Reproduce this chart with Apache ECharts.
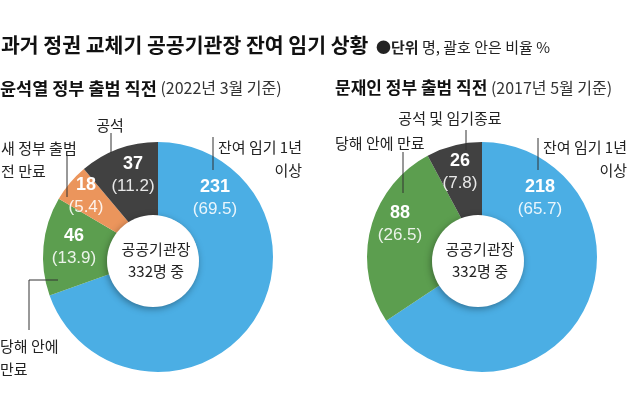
<!DOCTYPE html>
<html>
<head>
<meta charset="utf-8">
<script src="https://cdn.jsdelivr.net/npm/echarts@6/dist/echarts.min.js"></script>
<style>
html,body{margin:0;padding:0;background:#fff;}
#chart{width:640px;height:395px;}
</style>
</head>
<body>
<div id="chart"></div>
<script>
// ---- data ----
var titleText = '과거 정권 교체기 공공기관장 잔여 임기 상황';
var unitBold = '●단위';
var unitText = ' 명, 괄호 안은 비율 %';
var leftTitle = '윤석열 정부 출범 직전';
var leftSub = '(2022년 3월 기준)';
var rightTitle = '문재인 정부 출범 직전';
var rightSub = '(2017년 5월 기준)';
var centerLine1 = '공공기관장';
var centerLine2 = '332명 중';

var leftCategories = ['잔여 임기 1년\n이상', '당해 안에\n만료', '새 정부 출범\n전 만료', '공석'];
var leftValues = [231, 46, 18, 37];
var leftPercents = ['69.5', '13.9', '5.4', '11.2'];

var rightCategories = ['잔여 임기 1년\n이상', '당해 안에 만료', '공석 및 임기종료'];
var rightValues = [218, 88, 26];
var rightPercents = ['65.7', '26.5', '7.8'];

// ---- styles ----
var FONT = "'Liberation Sans','Noto Sans CJK KR',sans-serif";
var KFONT = "'Noto Sans CJK KR',sans-serif";
var leftColors = ['#4BAEE4', '#5C9E4F', '#EB955C', '#414141'];
var rightColors = ['#4BAEE4', '#5C9E4F', '#414141'];

// label centre positions (layout, px)
var leftValuePos = [[215, 198], [74, 247], [86, 196], [133, 175]];
var rightValuePos = [[540, 198], [400, 224], [460, 172]];

function buildData(cats, vals, cols) {
  return vals.map(function (v, i) {
    return { name: cats[i], value: v, itemStyle: { color: cols[i] } };
  });
}

function pieSeries(center, cats, vals, cols, pcts, pos) {
  return {
    type: 'pie',
    center: center,
    radius: [40, 115],
    startAngle: 90,
    clockwise: true,
    silent: true,
    animation: false,
    itemStyle: { borderWidth: 0 },
    data: buildData(cats, vals, cols),
    label: {
      show: true,
      position: 'inside',
      formatter: function (p) {
        return '{v|' + p.value + '}\n{p|(' + pcts[p.dataIndex] + ')}';
      },
      rich: {
        v: { color: '#fff', fontSize: 18, fontWeight: 'bold', fontFamily: FONT, lineHeight: 22, align: 'center' },
        p: { color: 'rgba(255,255,255,0.88)', fontSize: 17, fontFamily: FONT, lineHeight: 22, align: 'center' }
      }
    },
    labelLine: { show: false },
    labelLayout: function (params) {
      var q = pos[params.dataIndex];
      return { x: q[0], y: q[1], align: 'center', verticalAlign: 'middle' };
    }
  };
}

function txt(x, y, text, size, weight, align, color, font) {
  return {
    type: 'text', z: 100, x: x, y: y,
    style: {
      text: text, fontSize: size, fontWeight: weight || 'normal',
      fontFamily: font || KFONT, fill: color || '#222',
      align: align || 'left', verticalAlign: 'middle', lineHeight: 23
    }
  };
}
function line(points) {
  return {
    type: 'polyline', z: 100,
    shape: { points: points },
    style: { stroke: '#333', lineWidth: 1, fill: null }
  };
}
function hole(cx, cy) {
  return {
    type: 'circle', z: 90,
    shape: { cx: cx, cy: cy, r: 46 },
    style: {
      fill: '#fff', shadowBlur: 7, shadowColor: 'rgba(0,0,0,0.35)',
      shadowOffsetX: -1, shadowOffsetY: 2
    }
  };
}

var chart = echarts.init(document.getElementById('chart'), null, { renderer: 'canvas' });
chart.setOption({
  backgroundColor: '#fff',
  animation: false,
  series: [
    pieSeries([158, 257], leftCategories, leftValues, leftColors, leftPercents, leftValuePos),
    pieSeries([482, 257], rightCategories, rightValues, rightColors, rightPercents, rightValuePos)
  ],
  graphic: [
    // headings
    txt(1, 45, titleText, 20.5, 'bold', 'left', '#111'),
    {
      type: 'text', z: 100, x: 376, y: 47,
      style: {
        text: '{b|' + unitBold + '}{n|' + unitText + '}',
        verticalAlign: 'middle',
        rich: {
          b: { fontSize: 15, fontWeight: 'bold', fontFamily: KFONT, fill: '#222' },
          n: { fontSize: 15, fontFamily: KFONT, fill: '#222' }
        }
      }
    },
    {
      type: 'text', z: 100, x: 0, y: 88,
      style: {
        text: '{b|' + leftTitle + '}{n| ' + leftSub + '}',
        verticalAlign: 'middle',
        rich: {
          b: { fontSize: 17.5, fontWeight: 'bold', fontFamily: KFONT, fill: '#111' },
          n: { fontSize: 16, fontFamily: KFONT, fill: '#333' }
        }
      }
    },
    {
      type: 'text', z: 100, x: 335, y: 88,
      style: {
        text: '{b|' + rightTitle + '}{n| ' + rightSub + '}',
        verticalAlign: 'middle',
        rich: {
          b: { fontSize: 17, fontWeight: 'bold', fontFamily: KFONT, fill: '#111' },
          n: { fontSize: 16, fontFamily: KFONT, fill: '#333' }
        }
      }
    },
    // inner holes
    hole(153, 261),
    hole(478, 261),
    txt(156, 249, centerLine1, 15, 'normal', 'center', '#222'),
    txt(156, 271, centerLine2, 15, 'normal', 'center', '#222'),
    txt(480, 249, centerLine1, 15, 'normal', 'center', '#222'),
    txt(480, 271, centerLine2, 15, 'normal', 'center', '#222'),
    // left category labels
    txt(302, 159, leftCategories[0], 15, 'normal', 'right'),
    txt(0, 358, leftCategories[1], 15, 'normal', 'left'),
    txt(1, 160, leftCategories[2], 15, 'normal', 'left'),
    txt(110, 125, leftCategories[3], 15, 'normal', 'center'),
    line([[213, 137], [213, 170]]),
    line([[58, 280], [29, 280], [29, 330]]),
    line([[67, 155], [67, 197]]),
    line([[111, 133], [111, 153]]),
    // right category labels
    txt(627, 159, rightCategories[0], 15, 'normal', 'right'),
    txt(335, 143, rightCategories[1], 15, 'normal', 'left'),
    txt(450, 118, rightCategories[2], 15, 'normal', 'center'),
    line([[538, 138], [538, 170]]),
    line([[403, 152], [403, 193]]),
    line([[466, 130], [466, 150]])
  ]
});
</script>
</body>
</html>
